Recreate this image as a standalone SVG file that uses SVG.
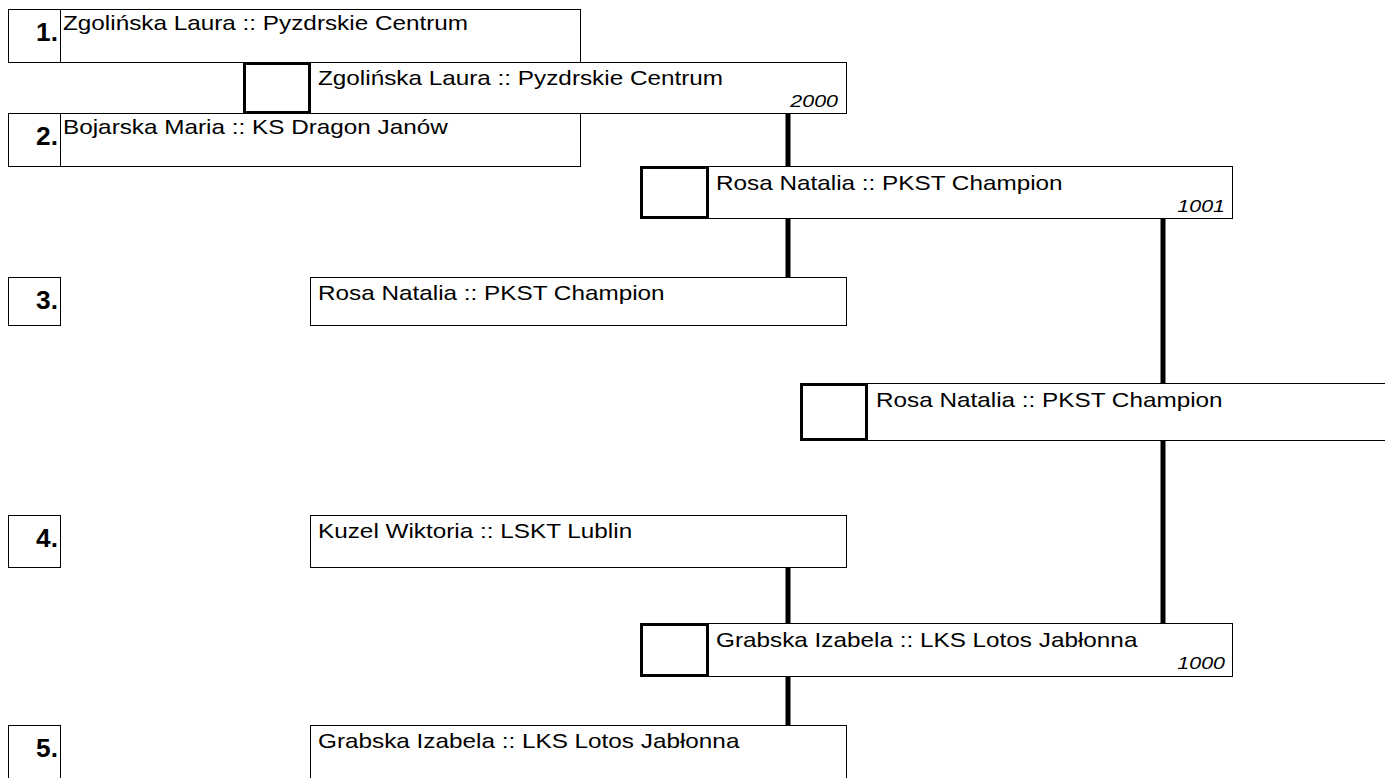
<svg xmlns="http://www.w3.org/2000/svg" width="1385" height="778" viewBox="0 0 1385 778">
<style>
.b{fill:#fff;stroke:#000;stroke-width:1}
.sq{fill:#fff;stroke:#000;stroke-width:3}
.t{font-family:"Liberation Sans",Arial,sans-serif;font-size:20px;fill:#000}
.n{font-family:"Liberation Sans",Arial,sans-serif;font-size:25px;font-weight:bold;fill:#000;text-anchor:end}
.s{font-family:"Liberation Sans",Arial,sans-serif;font-size:16px;font-style:italic;fill:#000;text-anchor:end}
.c{stroke:#000;stroke-width:5;fill:none}
</style>
<rect width="1385" height="778" fill="#fff"/>
<g id="connectors">
<line class="c" x1="788" y1="113" x2="788" y2="166"/>
<line class="c" x1="788" y1="218" x2="788" y2="277"/>
<line class="c" x1="1163" y1="218" x2="1163" y2="383"/>
<line class="c" x1="1163" y1="440" x2="1163" y2="623"/>
<line class="c" x1="788" y1="567" x2="788" y2="623"/>
<line class="c" x1="788" y1="676" x2="788" y2="725"/>
</g>
<g id="p1">
<rect class="b" x="8.5" y="9.5" width="572" height="53"/>
<line stroke="#000" x1="60.5" y1="9.5" x2="60.5" y2="62.5"/>
<text class="n" transform="translate(58,41) scale(1.05,1)">1.</text>
<text class="t" transform="translate(63,30) scale(1.215,1)">Zgolińska Laura :: Pyzdrskie Centrum</text>
</g>
<g id="p2">
<rect class="b" x="8.5" y="113.5" width="572" height="53"/>
<line stroke="#000" x1="60.5" y1="113.5" x2="60.5" y2="166.5"/>
<text class="n" transform="translate(58,145) scale(1.05,1)">2.</text>
<text class="t" transform="translate(63,134) scale(1.215,1)">Bojarska Maria :: KS Dragon Janów</text>
</g>
<g id="m2000">
<rect class="b" x="243.5" y="62.5" width="603" height="51"/>
<rect class="sq" x="244.5" y="63.5" width="65" height="49"/>
<text class="t" transform="translate(318,85) scale(1.215,1)">Zgolińska Laura :: Pyzdrskie Centrum</text>
<text class="s" transform="translate(838,107) scale(1.34,1)">2000</text>
</g>
<g id="m1001">
<rect class="b" x="640.5" y="166.5" width="592" height="52"/>
<rect class="sq" x="641.5" y="167.5" width="66" height="50"/>
<text class="t" transform="translate(716,190) scale(1.215,1)">Rosa Natalia :: PKST Champion</text>
<text class="s" transform="translate(1225,212) scale(1.34,1)">1001</text>
</g>
<g id="p3">
<rect class="b" x="8.5" y="277.5" width="52" height="48"/>
<text class="n" transform="translate(58,309) scale(1.05,1)">3.</text>
<rect class="b" x="310.5" y="277.5" width="536" height="48"/>
<text class="t" transform="translate(318,300) scale(1.215,1)">Rosa Natalia :: PKST Champion</text>
</g>
<g id="final">
<rect class="b" x="800.5" y="383.5" width="590" height="57"/>
<rect class="sq" x="801.5" y="384.5" width="65" height="55"/>
<text class="t" transform="translate(876,407) scale(1.215,1)">Rosa Natalia :: PKST Champion</text>
</g>
<g id="p4">
<rect class="b" x="8.5" y="515.5" width="52" height="52"/>
<text class="n" transform="translate(58,547) scale(1.05,1)">4.</text>
<rect class="b" x="310.5" y="515.5" width="536" height="52"/>
<text class="t" transform="translate(318,538) scale(1.215,1)">Kuzel Wiktoria :: LSKT Lublin</text>
</g>
<g id="m1000">
<rect class="b" x="640.5" y="623.5" width="592" height="53"/>
<rect class="sq" x="641.5" y="624.5" width="66" height="51"/>
<text class="t" transform="translate(716,647) scale(1.215,1)">Grabska Izabela :: LKS Lotos Jabłonna</text>
<text class="s" transform="translate(1225,669) scale(1.34,1)">1000</text>
</g>
<g id="p5">
<rect class="b" x="8.5" y="725.5" width="52" height="53"/>
<text class="n" transform="translate(58,757) scale(1.05,1)">5.</text>
<rect class="b" x="310.5" y="725.5" width="536" height="53"/>
<text class="t" transform="translate(318,748) scale(1.215,1)">Grabska Izabela :: LKS Lotos Jabłonna</text>
</g>
</svg>
